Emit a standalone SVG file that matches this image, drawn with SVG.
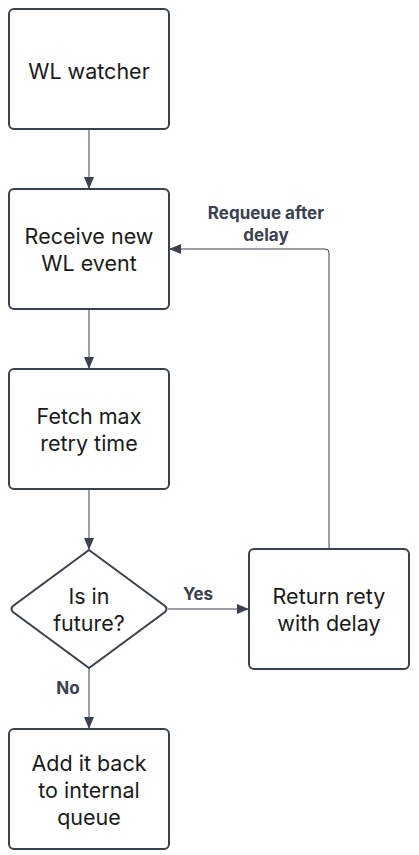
<svg xmlns="http://www.w3.org/2000/svg" width="419" height="855" viewBox="0 0 419 855">
<defs>
<marker id="ah" markerWidth="12" markerHeight="10" refX="11" refY="5" orient="auto" markerUnits="userSpaceOnUse">
<path d="M0,0 L12,5 L0,10 Z" fill="#3a414f"/>
</marker>
<style>
.node{fill:#fff;stroke:#3a414f;stroke-width:2}
.t{font-family:Inter,"Liberation Sans",sans-serif;font-size:21.5px;fill:#1a1a1a;text-anchor:middle}
.l{font-family:Inter,"Liberation Sans",sans-serif;font-size:17px;font-weight:bold;fill:#3a414f;text-anchor:middle}
.c{fill:none;stroke:#3a414f;stroke-width:1;marker-end:url(#ah)}
</style>
</defs>
<rect width="419" height="855" fill="#fff"/>
<g id="n1"><rect class="node" x="9" y="9" width="160" height="120" rx="5"/><text class="t" x="89" y="79">WL watcher</text></g>
<g id="n2"><rect class="node" x="9" y="189" width="160" height="120" rx="5"/><text class="t" x="89" y="244">Receive new</text><text class="t" x="89" y="271">WL event</text></g>
<g id="n3"><rect class="node" x="9" y="369" width="160" height="120" rx="5"/><text class="t" x="89" y="424">Fetch max</text><text class="t" x="89" y="451">retry time</text></g>
<g id="n4"><path class="node" d="M89,550 L165,606 Q168,609 165,612 L89,668 L13,612 Q10,609 13,606 Z"/><text class="t" x="89" y="604">Is in</text><text class="t" x="89" y="631">future?</text></g>
<g id="n5"><rect class="node" x="249" y="549" width="160" height="120" rx="5"/><text class="t" x="329" y="604">Return rety</text><text class="t" x="329" y="631">with delay</text></g>
<g id="n6"><rect class="node" x="9" y="729" width="160" height="120" rx="5"/><text class="t" x="89" y="771">Add it back</text><text class="t" x="89" y="798">to internal</text><text class="t" x="89" y="825">queue</text></g>
<g id="connectors">
<path class="c" d="M89,129 V188"/>
<path class="c" d="M89,309 V368"/>
<path class="c" d="M89,489 V549"/>
<path class="c" d="M168,609 H248"/>
<path class="c" d="M89,668 V728"/>
<path class="c" d="M329,549 V253 Q329,249 325,249 H170"/>
<text class="l" x="198" y="600">Yes</text>
<text class="l" x="68" y="694">No</text>
<text class="l" x="266" y="219">Requeue after</text>
<text class="l" x="266" y="241">delay</text>
</g>
</svg>
